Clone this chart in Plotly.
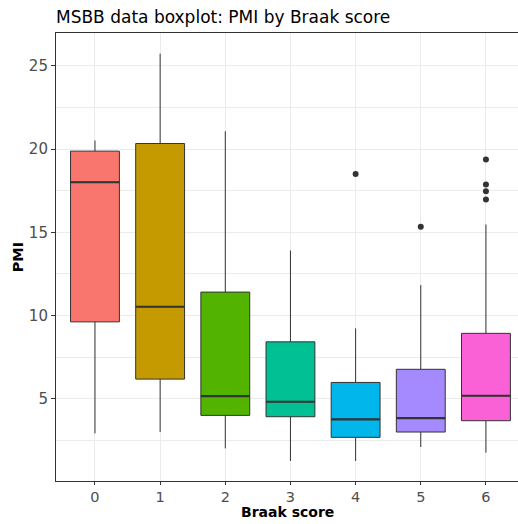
import plotly.graph_objects as go

# ---- data ----
braak = [0, 1, 2, 3, 4, 5, 6]
lower_whisker = [2.92, 3.0, 2.02, 1.26, 1.26, 2.1, 1.76]
q1 = [9.62, 6.18, 4.0, 3.92, 2.68, 3.0, 3.68]
median = [18.01, 10.53, 5.16, 4.82, 3.76, 3.84, 5.18]
q3 = [19.88, 20.34, 11.41, 8.42, 5.98, 6.77, 8.93]
upper_whisker = [20.52, 25.74, 21.08, 13.91, 9.23, 11.83, 15.47]
outlier_x = [4, 5, 6, 6, 6, 6]
outlier_y = [18.51, 15.33, 19.38, 17.88, 17.47, 16.98]
colors = ["#F8766D", "#C49A00", "#53B400", "#00C094", "#00B6EB", "#A58AFF", "#FB61D7"]

BOX_W = 0.75
EDGE = "#333333"
FONT = "DejaVu Sans"

fig = go.Figure()
for i, b in enumerate(braak):
    fig.add_trace(go.Box(
        x=[b], q1=[q1[i]], median=[median[i]], q3=[q3[i]],
        lowerfence=[lower_whisker[i]], upperfence=[upper_whisker[i]],
        width=BOX_W, whiskerwidth=0, fillcolor=colors[i],
        line=dict(color=EDGE, width=1), boxpoints=False,
        showlegend=False, hoverinfo="skip",
    ))

fig.add_trace(go.Scatter(
    x=outlier_x, y=outlier_y, mode="markers",
    marker=dict(color=EDGE, size=6), showlegend=False, hoverinfo="skip",
))

# thicker median lines (ggplot fatten)
for i, b in enumerate(braak):
    fig.add_shape(type="line", xref="x", yref="y",
                  x0=b - BOX_W / 2, x1=b + BOX_W / 2, y0=median[i], y1=median[i],
                  line=dict(color=EDGE, width=2.2), layer="above")

fig.update_layout(
    width=518, height=524,
    margin=dict(l=56, r=0, t=33, b=43),
    plot_bgcolor="white", paper_bgcolor="white",
    font=dict(family=FONT, color="#000000"),
    title=dict(text="MSBB data boxplot: PMI by Braak score",
               xref="container", x=56 / 518, xanchor="left",
               yref="container", y=(524 - 17.5) / 524, yanchor="middle",
               font=dict(family=FONT, size=17, color="#000000")),
    xaxis=dict(range=[-0.598, 6.492], tickvals=braak, ticktext=[str(b) for b in braak],
               showgrid=True, gridcolor="#EBEBEB", gridwidth=1.1,
               showline=True, linecolor=EDGE, linewidth=1.1, mirror=True,
               ticks="outside", ticklen=3, tickcolor=EDGE, tickwidth=1.1,
               tickfont=dict(family=FONT, size=14.5, color="#4D4D4D"),
               zeroline=False, automargin=False),
    yaxis=dict(range=[0.057, 26.98], tickvals=[5, 10, 15, 20, 25],
               showgrid=True, gridcolor="#EBEBEB", gridwidth=1.1,
               minor=dict(tickvals=[2.5, 7.5, 12.5, 17.5, 22.5], showgrid=True,
                          gridcolor="#EBEBEB", gridwidth=0.55, ticks=""),
               showline=True, linecolor=EDGE, linewidth=1.1, mirror=False,
               ticks="outside", ticklen=4, tickcolor=EDGE, tickwidth=1.1,
               tickfont=dict(family=FONT, size=15, color="#4D4D4D"),
               zeroline=False, automargin=False),
    annotations=[
        dict(text="<b>Braak score</b>", xref="paper", yref="paper",
             x=0.5, y=-(512 - 481) / 448, xanchor="center", yanchor="middle",
             showarrow=False, font=dict(family=FONT, size=14, color="#000000")),
        dict(text="<b>PMI</b>", xref="paper", yref="paper",
             x=(18.3 - 56) / 462, y=0.5, xanchor="center", yanchor="middle",
             textangle=-90, showarrow=False,
             font=dict(family=FONT, size=14.5, color="#000000")),
    ],
)

fig.write_html(
    "out.html",
    config={"displayModeBar": False},
    post_script="document.body.style.margin='0';document.body.style.padding='0';"
                "document.body.style.overflow='hidden';",
)
